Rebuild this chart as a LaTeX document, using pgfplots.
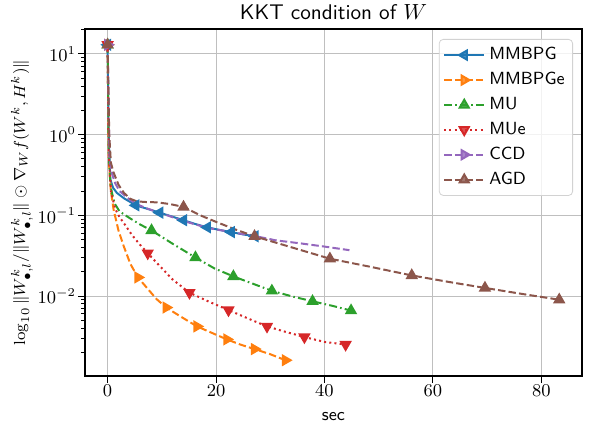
\documentclass[border=0pt]{standalone}
\usepackage{pgfplots}
\pgfplotsset{compat=1.18}
\usepackage{amsmath,amssymb}
\usetikzlibrary{calc}
\definecolor{tabblue}{HTML}{1F77B4}
\definecolor{taborange}{HTML}{FF7F0E}
\definecolor{tabgreen}{HTML}{2CA02C}
\definecolor{tabred}{HTML}{D62728}
\definecolor{tabpurple}{HTML}{9467BD}
\definecolor{tabbrown}{HTML}{8C564B}
\newcommand{\smallfont}{\fontsize{8.8}{10}\selectfont}

\begin{document}
\begin{tikzpicture}
\begin{axis}[name=ax, scale only axis, width=248.5pt, height=173.5pt,
  ymode=log, xmin=-4.17, xmax=87.5, ymin=1.02e-3, ymax=20.4,
  xtick={0,20,40,60,80}, ytick={1e-2,1e-1,1,10},
  minor ytick={2e-3,3e-3,4e-3,5e-3,6e-3,7e-3,8e-3,9e-3,2e-2,3e-2,4e-2,5e-2,6e-2,7e-2,8e-2,9e-2,
    0.2,0.3,0.4,0.5,0.6,0.7,0.8,0.9,2,3,4,5,6,7,8,9,20},
  tick align=outside, xtick pos=bottom, ytick pos=left,
  grid=major, major grid style={gray!50, line width=0.5pt},
  axis line style={line width=0.6pt},
  tick style={black, line width=0.5pt}, major tick length=3.5pt, minor tick length=2pt,
  tick label style={font=\smallfont, inner sep=0.8pt},
  xlabel={\sffamily sec},
  xlabel style={font=\smallfont, at={(axis description cs:0.5,0)}, anchor=base, yshift=-22pt},
  ylabel={$\log_{10}\|W^k_{\bullet,l}/\|W^k_{\bullet,l}\|\odot\nabla_W f(W^k,H^k)\|$},
  ylabel style={font=\fontsize{8}{9}\selectfont, at={(axis description cs:-0.1268,0.5)}, anchor=center},
  legend cell align=left,
  legend style={font=\smallfont\sffamily, at={(0.9819,0.9712)}, anchor=north east,
    draw=gray!35, rounded corners=2pt, fill=white, fill opacity=0.8, text opacity=1,
    inner xsep=2pt, inner ysep=2pt, row sep=0.8pt},
  legend image code/.code={\draw[mark indices={2}] plot coordinates {(0pt,0pt) (10pt,0pt) (20pt,0pt)};},
  every axis plot/.append style={line width=1pt},
  mark size=2.6pt]

\addplot[tabblue, solid, mark=triangle*, mark options={solid, rotate=90},
  mark indices={1,7,9,11,13,15,17}] coordinates {
  (0,13) (0.2,1.0) (0.5,0.28) (1.0,0.22) (1.7,0.19) (3.0,0.163) (5.2,0.133)
  (7.4,0.12) (9.6,0.108) (11.8,0.097) (14.0,0.087) (16.2,0.078) (18.4,0.071)
  (20.6,0.066) (22.8,0.062) (25.0,0.058) (27.2,0.055)};
\addlegendentry{MMBPG}

\addplot[taborange, dash pattern=on 3.7pt off 1.6pt, mark=triangle*, mark options={solid, rotate=-90},
  mark indices={1,8,11,13,15,17,19}] coordinates {
  (0,13) (0.2,0.5) (0.6,0.2) (1.1,0.118) (2.0,0.065) (3.0,0.041) (4.2,0.025)
  (5.6,0.017) (7.3,0.0125) (9.0,0.0092) (10.8,0.0072) (13.6,0.0055) (16.5,0.0042)
  (19.2,0.0035) (22.0,0.0029) (24.5,0.0025) (27.1,0.0022) (30.0,0.0019) (32.8,0.0016)};
\addlegendentry{MMBPGe}

\addplot[tabgreen, dash pattern=on 4pt off 1.6pt on 0.8pt off 1.6pt, mark=triangle*, mark options={solid},
  mark indices={1,9,11,13,15,17,19}] coordinates {
  (0,13) (0.2,0.6) (0.5,0.25) (0.8,0.19) (1.3,0.14) (2.2,0.112) (4.0,0.093)
  (6.0,0.077) (8.1,0.065) (12.1,0.044) (16.2,0.030) (19.7,0.022) (23.2,0.0175)
  (26.8,0.0142) (30.3,0.0116) (34.0,0.0099) (37.8,0.0086) (41.3,0.0076) (44.9,0.0066)};
\addlegendentry{MU}

\addplot[tabred, dash pattern=on 1pt off 1.6pt, mark=triangle*, mark options={solid, rotate=180},
  mark indices={1,9,12,14,16,18,20}] coordinates {
  (0,13) (0.2,0.6) (0.6,0.2) (1.4,0.12) (2.2,0.095) (3.0,0.08) (4.5,0.057)
  (6.0,0.043) (7.4,0.034) (9.5,0.024) (12.0,0.016) (15.1,0.011) (18.7,0.0085)
  (22.3,0.0067) (25.8,0.0053) (29.4,0.0042) (32.8,0.0036) (36.3,0.0031) (40.0,0.0027) (43.9,0.0025)};
\addlegendentry{MUe}

\addplot[tabpurple, dash pattern=on 3.7pt off 1.6pt, mark=triangle*, mark options={solid, rotate=-90},
  mark indices={1}] coordinates {
  (0,13) (0.35,0.5) (0.8,0.33) (1.4,0.25) (2.2,0.2) (3.0,0.18) (4.2,0.155)
  (5.4,0.137) (7.5,0.12) (9.6,0.108) (14.0,0.085) (18.4,0.07) (22.8,0.062)
  (27.4,0.055) (31.0,0.049) (35.5,0.045) (40.0,0.041) (44.6,0.037)};
\addlegendentry{CCD}

\addplot[tabbrown, dash pattern=on 3.7pt off 1.6pt, mark=triangle*, mark options={solid},
  mark indices={1,12,16,18,20,22,24}] coordinates {
  (0,13) (0.3,1.0) (0.6,0.45) (1.1,0.34) (2.0,0.24) (3.0,0.19) (4.2,0.16)
  (5.4,0.149) (7.2,0.146) (9.1,0.145) (11.5,0.138) (14.0,0.127) (17.1,0.1)
  (20.0,0.083) (23.5,0.067) (27.1,0.055) (34.0,0.04) (41.0,0.029) (48.5,0.023)
  (56.1,0.018) (62.8,0.015) (69.6,0.0126) (76.5,0.0106) (83.3,0.009)};
\addlegendentry{AGD}
\end{axis}
\node[anchor=base, font=\fontsize{10.6}{12}\selectfont\sffamily] at ($(ax.north)+(0,4.8pt)$) {KKT condition of $W$};
\pgfresetboundingbox
\path[use as bounding box] ($(ax.south west)+(-42.5pt,-25.5pt)$) rectangle ($(ax.north east)+(4.5pt,14.5pt)$);
\end{tikzpicture}
\end{document}
